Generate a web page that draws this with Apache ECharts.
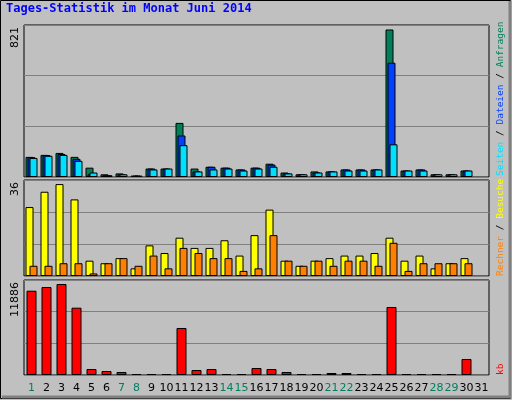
<!DOCTYPE html>
<html><head><meta charset="utf-8">
<script src="https://cdn.jsdelivr.net/npm/echarts@6/dist/echarts.min.js"></script>
<style>html,body{margin:0;padding:0;background:#c0c0c0}#c{width:512px;height:400px}</style>
</head><body><div id="c"></div>
<script>
const days = ['1','2','3','4','5','6','7','8','9','10','11','12','13','14','15','16','17','18','19','20','21','22','23','24','25','26','27','28','29','30','31'];
const greenDays = ['1','7','8','14','15','21','22','28','29'];
const anfragen = [112,123,134,112,52,15,20,8,47,47,301,47,57,52,42,52,74,25,15,31,31,42,42,42,821,36,42,15,15,36,null];
const dateien  = [110,122,128,101,15,10,15,8,47,47,231,31,57,52,42,52,69,20,15,25,31,42,42,42,636,36,42,15,15,36,null];
const seiten   = [106,118,123,90,25,10,15,8,42,47,177,31,42,47,36,47,57,20,15,25,31,36,36,42,182,36,36,15,15,36,null];
const besuche  = [27,33,36,30,6,5,7,3,12,9,15,11,11,14,8,16,26,6,4,6,7,8,8,9,15,6,8,3,5,7,null];
const rechner  = [4,4,5,5,1,5,7,4,8,3,11,9,7,7,2,3,16,6,4,6,4,6,6,4,13,2,5,5,5,5,null];
const kb       = [11010,11490,11886,8790,780,520,390,130,130,130,6140,650,780,130,130,910,780,390,130,130,260,260,130,130,8880,130,130,130,130,2090,null];
const maxLabels = ['821','36','11886'];

const chart = echarts.init(document.getElementById('c'));
const grids = [
  {left:24, width:465, top:25, height:152},
  {left:24, width:465, top:180, height:96},
  {left:24, width:465, top:280, height:95}
];
const maxes = [846, 37.6, 12408];
const bs = {borderColor:'#000', borderWidth:1};
function xa(i, show){
  return {type:'category', gridIndex:i, data:days, axisLine:{show:false}, axisTick:{show:false},
    axisLabel:{show:show, interval:0, margin:8, fontFamily:'DejaVu Sans', fontSize:11,
      color:(v)=> greenDays.includes(v) ? '#008060' : '#000'}};
}
function ya(i){
  return {type:'value', gridIndex:i, min:0, max:maxes[i], interval:maxes[i]/3, axisLabel:{show:false},
    axisLine:{show:false}, axisTick:{show:false}, splitLine:{lineStyle:{color:'#808080', width:1}}};
}
function sideText(x, yBottom, rich, text){
  return {type:'text', x:x, y:yBottom, rotation:Math.PI/2,
    style:{text:text, rich:rich, fontFamily:'DejaVu Sans Mono', fontSize:9.5, fill:'#000', align:'left', verticalAlign:'middle'}};
}
chart.setOption({
  animation:false,
  backgroundColor:'#c0c0c0',
  grid: grids.map(g=>Object.assign({show:true, borderColor:'#000', borderWidth:1, backgroundColor:'#c0c0c0'}, g)),
  xAxis:[xa(0,false), xa(1,false), xa(2,true)],
  yAxis:[ya(0), ya(1), ya(2)],
  series:[
    {type:'bar', xAxisIndex:0, yAxisIndex:0, data:anfragen, barWidth:8, barGap:'-75%', itemStyle:Object.assign({color:'#00805a'},bs)},
    {type:'bar', xAxisIndex:0, yAxisIndex:0, data:dateien, barWidth:8, barGap:'-75%', itemStyle:Object.assign({color:'#0040ff'},bs)},
    {type:'bar', xAxisIndex:0, yAxisIndex:0, data:seiten, barWidth:8, barGap:'-75%', itemStyle:Object.assign({color:'#00e0ff'},bs)},
    {type:'bar', xAxisIndex:1, yAxisIndex:1, data:besuche, barWidth:8, barGap:'-50%', itemStyle:Object.assign({color:'#ffff00'},bs)},
    {type:'bar', xAxisIndex:1, yAxisIndex:1, data:rechner, barWidth:8, barGap:'-50%', itemStyle:Object.assign({color:'#ff8000'},bs)},
    {type:'bar', xAxisIndex:2, yAxisIndex:2, data:kb, barWidth:10, itemStyle:Object.assign({color:'#ff0000'},bs)}
  ],
  graphic:[
    {type:'rect', shape:{x:0.5,y:0.5,width:510,height:398}, style:{fill:'none', stroke:'#000', lineWidth:1}, z:-1},
    {type:'polyline', shape:{points:[[510,1],[510,397],[2,397]]}, style:{stroke:'#808080', lineWidth:3, fill:'none'}},
    {type:'text', x:6, y:9, style:{text:'Tages-Statistik im Monat Juni 2014', fill:'#0000ff', fontFamily:'DejaVu Sans Mono', fontWeight:'bold', fontSize:12, verticalAlign:'middle'}},
    {type:'text', x:15, y:27, rotation:Math.PI/2, style:{text:maxLabels[0], fill:'#000', fontFamily:'DejaVu Sans', fontSize:11, align:'right', verticalAlign:'middle'}},
    {type:'text', x:15, y:182, rotation:Math.PI/2, style:{text:maxLabels[1], fill:'#000', fontFamily:'DejaVu Sans', fontSize:11, align:'right', verticalAlign:'middle'}},
    {type:'text', x:15, y:282, rotation:Math.PI/2, style:{text:maxLabels[2], fill:'#000', fontFamily:'DejaVu Sans', fontSize:11, align:'right', verticalAlign:'middle'}},
    sideText(501, 176, {s:{fill:'#00e0ff'}, d:{fill:'#0040ff'}, a:{fill:'#00805a'}}, '{s|Seiten} / {d|Dateien} / {a|Anfragen}'),
    sideText(501, 276, {r:{fill:'#ff8000'}, b:{fill:'#ffff00'}}, '{r|Rechner} / {b|Besuche}'),
    sideText(501, 375, {k:{fill:'#ff0000'}}, '{k|kb}')
  ]
});
</script></body></html>
